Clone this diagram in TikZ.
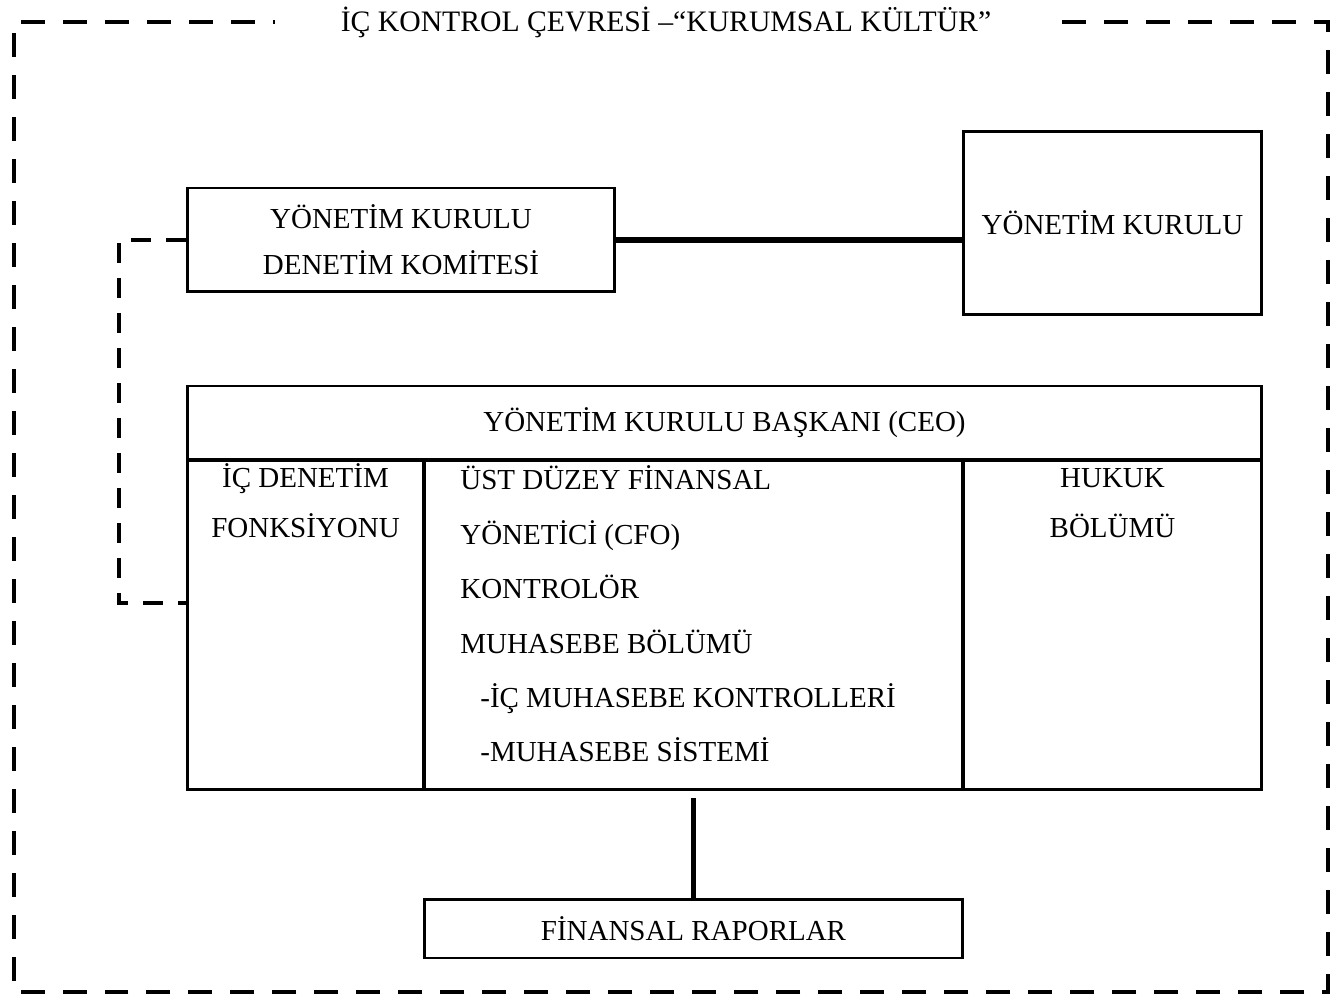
\documentclass[tikz,border=0pt]{standalone}
\usepackage{fontspec}
\setmainfont{Liberation Serif}
\usepackage{tikz}

\begin{document}
\begin{tikzpicture}[x=0.02cm,y=-0.02cm]
\tikzstyle{box}=[draw,line width=1.7pt,inner sep=0pt]
\tikzstyle{txt}=[inner sep=0pt,font=\fontsize{16.5}{31}\selectfont]
\tikzstyle{frame}=[line width=2.8pt,dash pattern=on 0.48cm off 0.36cm]
\tikzstyle{bracket}=[line width=2.3pt,dash pattern=on 0.4cm off 0.3cm]
\tikzstyle{link}=[line width=3.4pt]
\useasboundingbox (0,0) rectangle (1340,1003);

% outer frame with the title in its gap
\path (666,32) node[txt,anchor=base,font=\fontsize{16.9}{20}\selectfont](title){İÇ KONTROL ÇEVRESİ –“KURUMSAL KÜLTÜR”};
\draw[frame] (1062,22) -- (1328,22) -- (1328,992) -- (14,992) -- (14,22) -- (275,22);

% boards
\path (401,240) node[box,minimum width=8.56cm,minimum height=2.08cm,align=center,font=\fontsize{16.5}{26}\selectfont](akk){YÖNETİM KURULU\\DENETİM KOMİTESİ};
\path (1112.5,223) node[box,minimum width=5.98cm,minimum height=3.68cm,font=\fontsize{16.5}{20}\selectfont](yk){YÖNETİM KURULU};
\draw[link] (akk.east) -- (yk.west |- akk.east);

% CEO block
\path (724.5,423) node[box,minimum width=21.5cm,minimum height=1.48cm,font=\fontsize{16.5}{20}\selectfont](ceo){YÖNETİM KURULU BAŞKANI (CEO)};
\path (305.5,625) node[box,minimum width=4.74cm,minimum height=6.6cm](ic){};
\path (693.5,625) node[box,minimum width=10.78cm,minimum height=6.6cm](cfo){};
\path (1112.5,625) node[box,minimum width=5.98cm,minimum height=6.6cm](huk){};
\path (305.5,538) node[txt,anchor=base,align=center,font=\fontsize{16.5}{28.5}\selectfont](ictxt){İÇ DENETİM\\FONKSİYONU};
\path (460,762) node[txt,anchor=base west,align=left](cfotxt){ÜST DÜZEY FİNANSAL\\YÖNETİCİ (CFO)\\KONTROLÖR\\MUHASEBE BÖLÜMÜ\\\hspace{0.4cm}-İÇ MUHASEBE KONTROLLERİ\\\hspace{0.4cm}-MUHASEBE SİSTEMİ};
\path (1112.5,538) node[txt,anchor=base,align=center,font=\fontsize{16.5}{28.5}\selectfont](huktxt){HUKUK\\BÖLÜMÜ};

% audit committee to internal audit
\draw[bracket] (akk.west) -- ++(-67,0) |- ([yshift=0.44cm]ic.west);

% reports
\path (693.5,928.5) node[box,minimum width=10.78cm,minimum height=1.18cm,font=\fontsize{16.5}{20}\selectfont](fr){FİNANSAL RAPORLAR};
\draw[link,shorten >=0.14cm] (fr.north) -- (fr.north |- cfo.south);
\end{tikzpicture}
\end{document}
